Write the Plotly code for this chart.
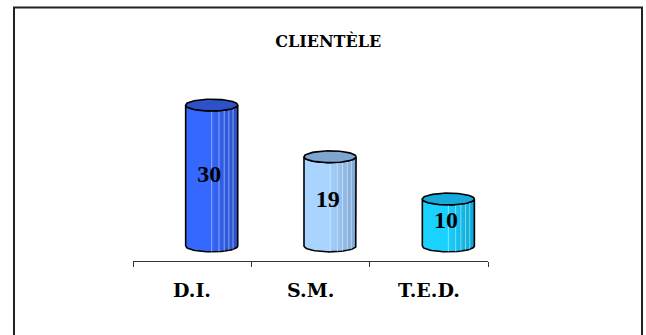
import numpy as np
import plotly.graph_objects as go

categories = ["D.I.", "S.M.", "T.E.D."]
values = [30, 19, 10]
title_text = "CLIENTÈLE"

face_left = ["#3468FF", "#A8D4FF", "#1AD2FF"]
face_right = ["#2A4FC8", "#7FA7D6", "#0FA6D6"]
top_colors = ["#2D51C6", "#7EA4D0", "#14ABDC"]

OFFSET = 0.165   # depth shift of the cylinders (category units)
W = 0.22         # half width (category units)
H = 1.25         # half height of the ellipses (value units)

fig = go.Figure()

for i, (cat, v) in enumerate(zip(categories, values)):
    cx = i + OFFSET
    t_top = np.linspace(np.pi, 2 * np.pi, 40)
    t_bot = np.linspace(0, -np.pi, 40)
    xs = [cx - W] + list(cx + W * np.cos(t_top)) + [cx + W] + list(cx + W * np.cos(t_bot)) + [cx - W]
    ys = [0] + list(v + H * np.sin(t_top)) + [0] + list(0 + H * np.sin(t_bot)) + [0]
    fig.add_trace(go.Scatter(
        x=xs, y=ys, mode="lines", fill="toself",
        fillgradient=dict(type="horizontal",
                          colorscale=[[0, face_left[i]], [0.45, face_left[i]], [1, face_right[i]]]),
        line=dict(color="black", width=1.6), hoverinfo="skip", showlegend=False))
    # facet lines
    fx, fy = [], []
    for f in [0.5, 0.64, 0.74, 0.83, 0.91]:
        xx = cx - W + f * 2 * W
        d = H * np.sqrt(max(0.0, 1 - ((xx - cx) / W) ** 2))
        fx += [xx, xx, None]
        fy += [v - d, 0 - d, None]
    fig.add_trace(go.Scatter(x=fx, y=fy, mode="lines",
                             line=dict(color="rgba(255,255,255,0.45)", width=1),
                             hoverinfo="skip", showlegend=False))
    # top ellipse
    t = np.linspace(0, 2 * np.pi, 80)
    fig.add_trace(go.Scatter(
        x=cx + W * np.cos(t), y=v + H * np.sin(t), mode="lines", fill="toself",
        fillcolor=top_colors[i], line=dict(color="black", width=1.6),
        hoverinfo="skip", showlegend=False))

# value labels
fig.add_trace(go.Scatter(
    x=[i + OFFSET - 0.02 for i in range(len(values))], y=[v / 2 for v in values],
    mode="text", text=[f"<b>{v}</b>" for v in values],
    textfont=dict(family="Liberation Serif", size=24, color="black"),
    hoverinfo="skip", showlegend=False))

annotations = []
for i, cat in enumerate(categories):
    annotations.append(dict(x=i, y=-0.145, xref="x", yref="paper", text=f"<b>{cat}</b>",
                            showarrow=False, yanchor="middle",
                            font=dict(family="DejaVu Serif", size=19, color="black")))

fig.update_layout(
    width=646, height=335,
    margin=dict(l=133, r=158, t=60, b=74),
    paper_bgcolor="white", plot_bgcolor="white",
    title=dict(text=f"<b>{title_text}</b>", xref="container", x=0.508, xanchor="center",
               yref="container", y=1 - 41 / 335, yanchor="middle",
               font=dict(family="DejaVu Serif", size=16, color="black")),
    xaxis=dict(range=[-0.5, 2.5], tickvals=[-0.5, 0.5, 1.5, 2.5], ticktext=["", "", "", ""],
               ticks="outside", ticklen=5, tickcolor="#333", showline=True, linecolor="#333",
               linewidth=1, showgrid=False, zeroline=False, fixedrange=True),
    yaxis=dict(range=[-3.2, 39.6], visible=False, fixedrange=True),
    annotations=annotations,
    shapes=[dict(type="rect", xref="paper", yref="paper",
                 x0=(14 - 133) / 355, x1=(642 - 133) / 355,
                 y0=(261 - 345) / 201, y1=(261 - 7.5) / 201,
                 line=dict(color="#222", width=2), fillcolor="rgba(0,0,0,0)", layer="below")],
    showlegend=False,
)

fig.write_html("out.html")
